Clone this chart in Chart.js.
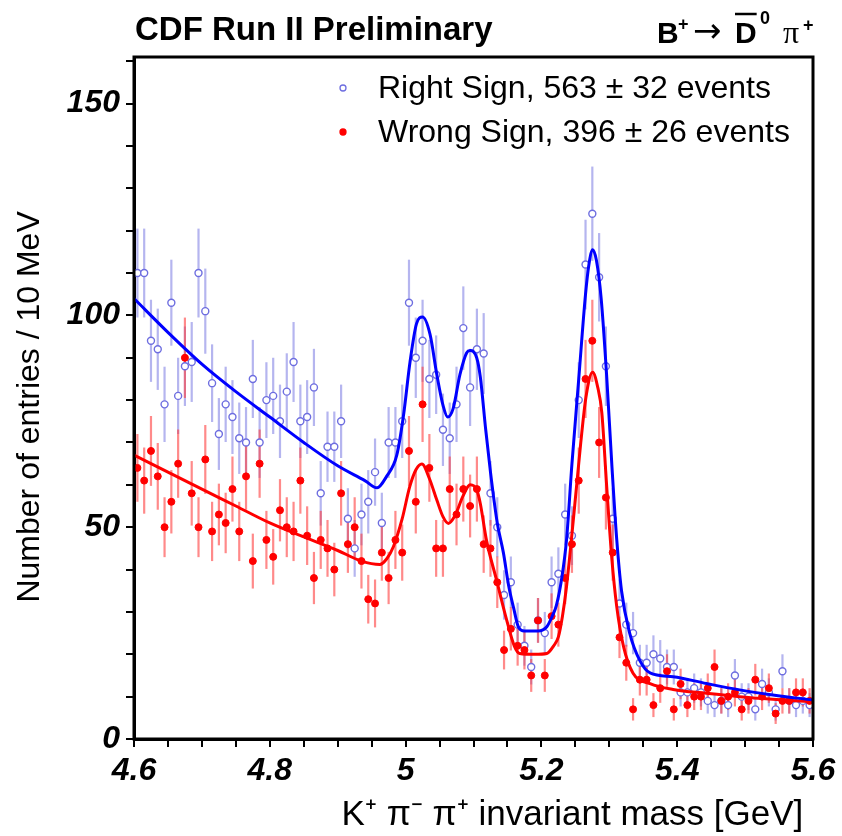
<!DOCTYPE html>
<html>
<head>
<meta charset="utf-8">
<script src="https://cdn.jsdelivr.net/npm/chart.js@4.4.1/dist/chart.umd.min.js"></script>
<style>
  html, body { margin: 0; padding: 0; background: #fff; }
  #wrap { width: 842px; height: 836px; position: relative; }
</style>
</head>
<body>
<div id="wrap"><canvas id="massChart"></canvas></div>
<script>
// histogram: 10 MeV bins from 4.6 to 5.6 GeV
const massMin = 4.6;
const binWidth = 0.01;

// Right Sign entries per bin
const rightSign = [
  110, 110, 94, 92, 79, 103, 81, 88, 89, 110,
  101, 84, 72, 79, 76, 71, 70, 85, 70, 80,
  81, 75, 82, 89, 75, 76, 83, 58, 69, 69,
  75, 52, 45, 53, 56, 63, 51, 70, 70, 75,
  103, 90, 94, 85, 86, 73, 71, 79, 97, 83,
  92, 91, 58, 50, 34, 37, 27, 22, 17, 28,
  25, 37, 39, 53, 48, 80, 112, 124, 109, 88,
  52, 32, 27, 25, 18, 18, 20, 19, 17, 17,
  11, 11, 12, 11, 9, 8, 9, 8, 15, 10,
  10, 7, 13, 11, 7, 16, 9, 8, 9, 8
];

// Wrong Sign entries per bin
const wrongSign = [
  64, 61, 68, 62, 50, 56, 65, 90, 58, 50,
  66, 49, 53, 51, 59, 49, 62, 42, 65, 47,
  43, 54, 50, 49, 61, 48, 38, 47, 45, 40,
  58, 46, 50, 42, 33, 32, 44, 38, 47, 44,
  68, 56, 79, 64, 45, 45, 59, 53, 59, 55,
  59, 46, 45, 37, 21, 26, 22, 21, 15, 28,
  15, 29, 27, 38, 46, 61, 85, 94, 70, 57,
  44, 24, 18, 7, 14, 14, 8, 12, 16, 7,
  13, 8, 10, 10, 12, 17, 9, 10, 11, 7,
  9, 14, 10, 12, 6, 9, 9, 11, 11, 9
];

// fit curves (mass, entries)
const rsFitX = [4.600, 4.650, 4.700, 4.750, 4.800, 4.850, 4.900, 4.940, 4.958, 4.972,
  4.987, 4.997, 5.0065, 5.016, 5.025, 5.036, 5.046, 5.0555, 5.062, 5.070,
  5.080, 5.090, 5.095, 5.1047, 5.110, 5.118, 5.125, 5.135, 5.144, 5.152,
  5.159, 5.166, 5.175, 5.195, 5.208, 5.216, 5.222, 5.230, 5.237, 5.245,
  5.255, 5.265, 5.270, 5.2755, 5.281, 5.288, 5.296, 5.304, 5.311, 5.318,
  5.330, 5.345, 5.360, 5.394, 5.443, 5.492, 5.541, 5.600];
const rsFitY = [104, 96, 88.5, 82, 76, 70, 64.5, 61, 59.3, 62,
  67, 76.5, 89, 98, 99.6, 95.5, 86, 78.5, 76, 78,
  86, 91.2, 91.7, 90, 85.5, 73, 63, 51, 44, 36,
  31, 26.5, 25.5, 25.5, 26.5, 29, 31.5, 38, 47, 65,
  85, 105, 112, 115.5, 113, 104, 86, 64, 47, 35,
  25, 18.5, 15.6, 14.7, 13.1, 11.6, 10.4, 9.2];

const wsFitX = [4.600, 4.650, 4.700, 4.750, 4.800, 4.850, 4.900, 4.935, 4.962, 4.972,
  4.982, 4.995, 5.006, 5.015, 5.024, 5.035, 5.046, 5.055, 5.063, 5.072,
  5.085, 5.095, 5.105, 5.110, 5.119, 5.134, 5.149, 5.160, 5.168, 5.190,
  5.208, 5.218, 5.225, 5.231, 5.237, 5.249, 5.258, 5.2656, 5.2755, 5.283,
  5.289, 5.296, 5.3035, 5.311, 5.321, 5.335, 5.360, 5.394, 5.443, 5.492,
  5.541, 5.600];
const wsFitY = [67, 63, 59, 55, 51, 47.7, 44.5, 42, 41.2, 42.5,
  45.4, 52, 59.5, 63.5, 64.9, 61.5, 56.4, 52.5, 50.9, 52.5,
  57.5, 60, 58.7, 55.6, 47, 37.5, 28, 22, 20.2, 20,
  20.2, 22, 24.1, 29, 36, 55, 70, 80.7, 86.6, 83,
  77, 60, 43, 31.2, 21.8, 15.5, 13.1, 11.7, 10.8, 10,
  9.4, 8.8];

// axis ticks
const xTicks = [4.6, 4.65, 4.7, 4.75, 4.8, 4.85, 4.9, 4.95, 5.0, 5.05, 5.1,
  5.15, 5.2, 5.25, 5.3, 5.35, 5.4, 5.45, 5.5, 5.55, 5.6];
const xLabels = ['4.6', '4.8', '5', '5.2', '5.4', '5.6'];
const yTicks = [0, 10, 20, 30, 40, 50, 60, 70, 80, 90, 100, 110, 120, 130, 140, 150, 160];
const yLabels = ['0', '50', '100', '150'];

const legendLabels = ['Right Sign, 563 \u00b1 32 events', 'Wrong Sign, 396 \u00b1 26 events'];

const SANS = "'Liberation Sans', Arial, Helvetica, sans-serif";

function toPoints(counts) {
  return counts.map((n, i) => ({ x: +(massMin + binWidth * (i + 0.5)).toFixed(3), y: n }));
}
function toCurve(xs, ys) {
  return xs.map((x, i) => ({ x: x, y: ys[i] }));
}

// vertical error bars, sqrt(N)
const errorBars = {
  id: 'errorBars',
  beforeDatasetsDraw(chart) {
    const { ctx, chartArea, scales } = chart;
    ctx.save();
    ctx.beginPath();
    ctx.rect(chartArea.left, chartArea.top, chartArea.right - chartArea.left, chartArea.bottom - chartArea.top);
    ctx.clip();
    chart.data.datasets.forEach(ds => {
      if (!ds.errColor) return;
      ctx.strokeStyle = ds.errColor;
      ctx.lineWidth = 2.2;
      ds.data.forEach(p => {
        const e = Math.sqrt(p.y);
        const px = scales.x.getPixelForValue(p.x);
        ctx.beginPath();
        ctx.moveTo(px, scales.y.getPixelForValue(p.y - e));
        ctx.lineTo(px, scales.y.getPixelForValue(p.y + e));
        ctx.stroke();
      });
    });
    ctx.restore();
  }
};

// frame, titles and legend
const decorations = {
  id: 'decorations',
  afterDraw(chart) {
    const { ctx, chartArea: a } = chart;
    ctx.save();
    ctx.strokeStyle = '#000';
    ctx.lineWidth = 3;
    ctx.strokeRect(a.left, a.top, a.right - a.left, a.bottom - a.top);

    ctx.fillStyle = '#000';
    ctx.textBaseline = 'alphabetic';
    ctx.textAlign = 'left';
    ctx.font = 'bold 33px ' + SANS;
    ctx.fillText('CDF Run II Preliminary', 135, 40);

    // B+ -> D0bar pi+
    ctx.font = 'bold 30px ' + SANS;
    ctx.fillText('B', 657, 43);
    ctx.font = 'bold 18px ' + SANS;
    ctx.fillText('+', 678, 30);
    ctx.font = "34px 'DejaVu Sans', sans-serif";
    ctx.fillText('\u2192', 693, 42);
    ctx.font = 'bold 30px ' + SANS;
    const dw = ctx.measureText('D').width;
    ctx.fillText('D', 735, 43);
    ctx.lineWidth = 2.5;
    ctx.beginPath(); ctx.moveTo(735, 14); ctx.lineTo(735 + dw, 14); ctx.stroke();
    ctx.font = 'bold 18px ' + SANS;
    ctx.fillText('0', 760, 24);
    ctx.font = "32px 'Liberation Serif', serif";
    ctx.fillText('\u03c0', 783, 43);
    ctx.font = 'bold 18px ' + SANS;
    ctx.fillText('+', 803, 31);

    // legend
    const marks = chart.data.datasets.filter(d => d.errColor);
    ctx.font = '32px ' + SANS;
    ctx.textBaseline = 'middle';
    marks.forEach((d, i) => {
      const y = 88 + i * 44;
      ctx.beginPath();
      ctx.arc(343, y, 3, 0, Math.PI * 2);
      ctx.fillStyle = d.backgroundColor;
      ctx.fill();
      ctx.lineWidth = 1.3;
      ctx.strokeStyle = d.borderColor;
      ctx.stroke();
      ctx.fillStyle = '#000';
      ctx.fillText(legendLabels[i], 378, y + 1);
    });
    ctx.restore();
  }
};

new Chart(document.getElementById('massChart'), {
  type: 'scatter',
  data: {
    datasets: [
      {
        type: 'line',
        data: toCurve(rsFitX, rsFitY),
        borderColor: '#0000ff',
        borderWidth: 3,
        pointRadius: 0,
        cubicInterpolationMode: 'monotone',
        order: 0
      },
      {
        type: 'line',
        data: toCurve(wsFitX, wsFitY),
        borderColor: '#ff0000',
        borderWidth: 3,
        pointRadius: 0,
        cubicInterpolationMode: 'monotone',
        order: 0
      },
      {
        data: toPoints(rightSign),
        pointStyle: 'circle',
        pointRadius: 3.5,
        borderWidth: 1.4,
        borderColor: '#6e6ee0',
        backgroundColor: '#ffffff',
        errColor: 'rgba(120,120,225,0.55)',
        order: 2
      },
      {
        data: toPoints(wrongSign),
        pointStyle: 'circle',
        pointRadius: 3.5,
        borderWidth: 1,
        borderColor: '#ff0000',
        backgroundColor: '#ff0000',
        errColor: 'rgba(255,60,60,0.6)',
        order: 1
      }
    ]
  },
  options: {
    responsive: true,
    maintainAspectRatio: false,
    animation: false,
    events: [],
    layout: { padding: { top: 57, right: 29, left: 0, bottom: 0 } },
    plugins: { legend: { display: false }, tooltip: { enabled: false }, title: { display: false } },
    scales: {
      x: {
        type: 'linear',
        min: 4.6,
        max: 5.6,
        afterBuildTicks: s => { s.ticks = xTicks.map(v => ({ value: v })); },
        afterFit: s => { s.height = 97; },
        grid: { drawOnChartArea: false, drawTicks: true, tickLength: 8, color: '#000', lineWidth: 2 },
        border: { display: true, color: '#000', width: 3 },
        ticks: {
          autoSkip: false,
          maxRotation: 0,
          padding: 5,
          color: '#000',
          font: { family: SANS, size: 32, style: 'italic', weight: 'bold' },
          callback: (v, i) => (i % 4 === 0 ? xLabels[i / 4] : '')
        },
        title: {
          display: true,
          text: 'K\u207a \u03c0\u207b \u03c0\u207a invariant mass [GeV] ',
          align: 'end',
          color: '#000',
          font: { family: SANS, size: 35 },
          padding: { top: 0, bottom: 0 }
        }
      },
      y: {
        min: 0,
        max: 161,
        afterBuildTicks: s => { s.ticks = yTicks.map(v => ({ value: v })); },
        afterFit: s => { s.width = 134; },
        grid: { drawOnChartArea: false, drawTicks: true, tickLength: 8, color: '#000', lineWidth: 2 },
        border: { display: true, color: '#000', width: 3 },
        ticks: {
          autoSkip: false,
          padding: 6,
          color: '#000',
          font: { family: SANS, size: 32, style: 'italic', weight: 'bold' },
          callback: (v, i) => (i % 5 === 0 ? yLabels[i / 5] : '')
        },
        title: {
          display: true,
          text: 'Number of entries / 10 MeV  ',
          color: '#000',
          font: { family: SANS, size: 32 },
          padding: { top: 11, bottom: 0 }
        }
      }
    }
  },
  plugins: [errorBars, decorations]
});
</script>
</body>
</html>
